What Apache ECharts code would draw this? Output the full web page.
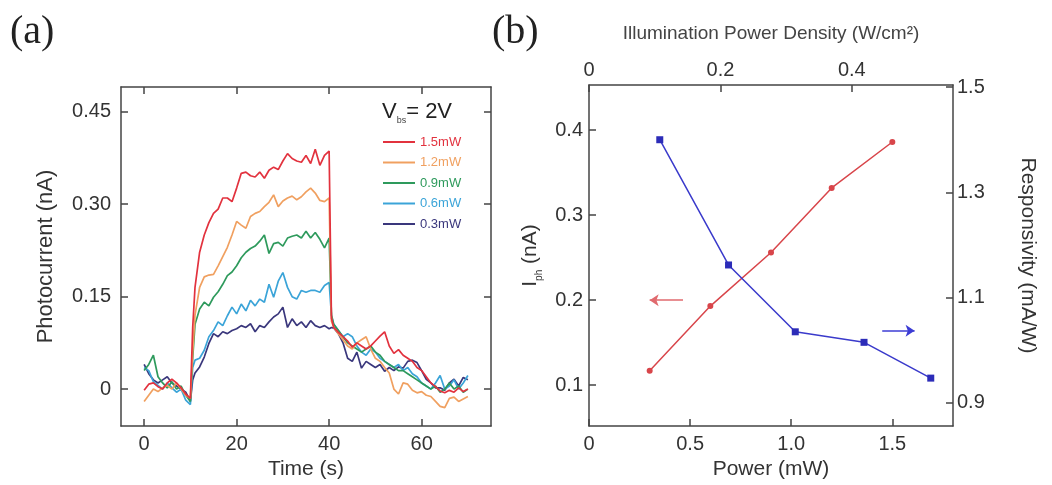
<!DOCTYPE html>
<html>
<head>
<meta charset="utf-8">
<script src="https://cdn.jsdelivr.net/npm/echarts@6/dist/echarts.min.js"></script>
<style>
  html,body{margin:0;padding:0;background:#fff;}
  #chart{width:1052px;height:485px;}
</style>
</head>
<body>
<div id="chart"></div>
<script>
// (a) time traces
let time = [0,1,2,3,4,5,6,7,8,9,10,10.5,11,12,13,14,15,16,17,18,19,20,21,22,23,24,25,26,27,28,29,30,
  31,32,33,34,35,36,37,38,39,40,40.5,41,42,43,44,45,46,47,48,49,50,51,52,53,54,55,56,57,58,59,60,
  61,62,63,64,65,66,67,68,69,70]
let p15 = [-0.002,0.008,0.01,0.004,0,0.01,0.016,0.01,0.002,-0.008,-0.015,0.1,0.165,0.222,0.25,0.27,0.285,0.292,0.31,0.31,0.304,0.326,
  0.35,0.352,0.346,0.344,0.352,0.342,0.355,0.36,0.356,0.37,0.382,0.374,0.37,0.368,0.379,0.366,0.389,0.363,0.379,0.386,
  0.115,0.1,0.092,0.085,0.078,0.068,0.075,0.07,0.065,0.07,0.078,0.086,0.093,0.07,0.058,0.064,0.055,0.05,0.045,0.035,0.03,
  0.02,0.01,0.004,-0.003,-0.006,-0.002,-0.005,0.002,-0.004,0]
let p12 = [-0.02,-0.01,0,-0.004,0.002,0.006,0,0.01,0,-0.01,-0.015,0.06,0.12,0.165,0.182,0.185,0.186,0.2,0.215,0.23,0.25,0.272,
  0.266,0.261,0.28,0.285,0.288,0.296,0.303,0.315,0.296,0.305,0.31,0.313,0.307,0.312,0.32,0.326,0.318,0.306,0.304,0.31,
  0.11,0.1,0.09,0.08,0.07,0.065,0.075,0.08,0.085,0.065,0.05,0.045,0.035,0.026,0,-0.008,0.01,0.008,-0.002,-0.006,-0.004,
  -0.01,-0.012,-0.02,-0.028,-0.03,-0.015,-0.013,-0.02,-0.016,-0.012]
let p09 = [0.03,0.04,0.055,0.02,0.01,0.002,0.012,0,0.005,-0.01,-0.02,0.05,0.105,0.13,0.141,0.135,0.149,0.158,0.17,0.184,0.19,0.2,
  0.213,0.222,0.228,0.232,0.24,0.25,0.22,0.236,0.238,0.232,0.245,0.248,0.25,0.245,0.256,0.245,0.254,0.243,0.229,0.245,
  0.12,0.105,0.095,0.085,0.075,0.07,0.065,0.06,0.065,0.07,0.06,0.055,0.045,0.04,0.035,0.03,0.03,0.025,0.02,0.015,0.01,
  0.005,0,0.005,-0.005,0,0.01,0,0.005,-0.005,0]
let p06 = [0.035,0.03,0.012,0.006,0,0.01,0.002,-0.005,0,-0.018,-0.025,0.035,0.047,0.05,0.063,0.085,0.095,0.109,0.103,0.119,0.133,0.122,
  0.138,0.127,0.144,0.135,0.146,0.141,0.17,0.149,0.175,0.189,0.165,0.15,0.146,0.16,0.157,0.16,0.16,0.157,0.168,0.173,
  0.12,0.105,0.095,0.085,0.09,0.085,0.07,0.06,0.055,0.065,0.06,0.05,0.045,0.04,0.035,0.04,0.03,0.035,0.025,0.02,0.01,
  0.005,0,0.01,0.022,0,0.005,0.015,0,0.01,0.022]
let p03 = [0.04,0.025,0.015,0.01,0.015,0.02,0.01,0.005,0,-0.005,-0.02,0.015,0.026,0.036,0.052,0.074,0.09,0.085,0.093,0.09,0.095,0.098,
  0.103,0.1,0.106,0.093,0.103,0.1,0.109,0.117,0.122,0.133,0.1,0.114,0.103,0.109,0.1,0.111,0.103,0.1,0.103,0.098,
  0.1,0.099,0.09,0.075,0.05,0.045,0.06,0.034,0.045,0.04,0.035,0.04,0.029,0.035,0.03,0.036,0.034,0.045,0.047,0.043,0.03,
  0.016,0.01,0.002,0.002,-0.002,0.01,0.016,0.005,0.019,0.015]
let traceNames = ['1.5mW','1.2mW','0.9mW','0.6mW','0.3mW']
let traceColors = ['#e2323e','#f0a060','#2e9a5c','#3ba4d8','#3a377c']

// (b) photocurrent and responsivity
let powerIph = [0.3,0.6,0.9,1.2,1.5]
let iph = [0.117,0.193,0.256,0.332,0.386]
let powerResp = [0.35,0.69,1.02,1.36,1.69]
let resp = [1.40,1.162,1.035,1.015,0.947]

function zip(xs, ys){
  let out = []
  for(var i=0;i<xs.length;i++){ out.push([xs[i], ys[i]]) }
  return out
}

let font = 'Liberation Sans'
let axisColor = '#444'
function frame(extra){
  let base = {
    type: 'value',
    axisLine: {show: true, onZero: false, lineStyle: {color: axisColor, width: 1.5}},
    axisTick: {show: true, inside: true, length: 7, lineStyle: {color: axisColor, width: 1.5}},
    axisLabel: {show: false},
    splitLine: {show: false},
    nameTextStyle: {fontFamily: font, fontSize: 21, color: '#333'}
  }
  return Object.assign(base, extra)
}
function labels(vals, digits, margin){
  return {
    show: true, customValues: vals, margin: margin,
    fontFamily: font, fontSize: 20, color: '#333',
    formatter: function(v){ return v === 0 ? '0' : v.toFixed(digits) }
  }
}
function ticks(vals){
  return {show: true, inside: true, length: 7, customValues: vals, lineStyle: {color: axisColor, width: 1.5}}
}

let chart = echarts.init(document.getElementById('chart'))
let series = []
let order = [4,3,2,1,0]
let traces = [p15,p12,p09,p06,p03]
order.forEach(function(k){
  series.push({
    name: traceNames[k], type: 'line', xAxisIndex: 0, yAxisIndex: 0,
    showSymbol: false, data: zip(time, traces[k]),
    lineStyle: {width: 1.7, color: traceColors[k]}, itemStyle: {color: traceColors[k]}
  })
})
series.push({
  name: 'Iph', type: 'line', xAxisIndex: 2, yAxisIndex: 2,
  data: zip(powerIph, iph), symbol: 'circle', symbolSize: 6,
  lineStyle: {width: 1.5, color: '#d8454a'}, itemStyle: {color: '#d8454a'},
  markLine: {
    silent: true, symbol: ['none','arrow'], symbolSize: 9, label: {show: false},
    lineStyle: {color: '#e06a6e', type: 'solid', width: 1.5},
    data: [[{coord: [0.465, 0.2]}, {coord: [0.3, 0.2]}]]
  }
})
series.push({
  name: 'Resp', type: 'line', xAxisIndex: 2, yAxisIndex: 3,
  data: zip(powerResp, resp), symbol: 'rect', symbolSize: 7,
  lineStyle: {width: 1.5, color: '#3a3acb'}, itemStyle: {color: '#2c2cb8'},
  markLine: {
    silent: true, symbol: ['none','arrow'], symbolSize: 9, label: {show: false},
    lineStyle: {color: '#3c3cd4', type: 'solid', width: 1.5},
    data: [[{coord: [1.45, 1.037]}, {coord: [1.61, 1.037]}]]
  }
})

let option = {
  animation: false,
  backgroundColor: '#fff',
  grid: [
    {left: 121, right: 561, top: 87, bottom: 56},
    {left: 589, right: 99, top: 85, bottom: 59}
  ],
  legend: {
    orient: 'vertical', left: 378, top: 129, itemWidth: 32, itemHeight: 2, itemGap: 4.5,
    icon: 'rect', selectedMode: false,
    textStyle: {fontFamily: font, fontSize: 13, lineHeight: 16},
    data: traceNames.map(function(n, i){ return {name: n, textStyle: {color: traceColors[i]}} })
  },
  xAxis: [
    frame({gridIndex: 0, position: 'bottom', min: -5, max: 75,
      axisLabel: labels([0,20,40,60], 0, 8), axisTick: ticks([0,20,40,60]),
      name: 'Time (s)', nameLocation: 'middle', nameGap: 28}),
    frame({gridIndex: 0, position: 'top', min: -5, max: 75, axisTick: ticks([0,20,40,60])}),
    frame({gridIndex: 1, position: 'bottom', min: 0, max: 1.8,
      axisLabel: labels([0,0.5,1,1.5], 1, 8), axisTick: ticks([0,0.5,1,1.5]),
      name: 'Power (mW)', nameLocation: 'middle', nameGap: 32}),
    frame({gridIndex: 1, position: 'top', min: 0, max: 0.554,
      axisLabel: labels([0,0.2,0.4], 1, 5), axisTick: ticks([0,0.2,0.4]),
      name: 'Illumination Power Density (W/cm²)', nameLocation: 'middle', nameGap: 42,
      nameTextStyle: {fontFamily: font, fontSize: 19, color: '#444'}})
  ],
  yAxis: [
    frame({gridIndex: 0, position: 'left', min: -0.06, max: 0.49,
      axisLabel: labels([0,0.15,0.3,0.45], 2, 10), axisTick: ticks([0,0.15,0.3,0.45]),
      name: 'Photocurrent (nA)', nameLocation: 'middle', nameGap: 64,
      nameTextStyle: {fontFamily: font, fontSize: 22, color: '#333'}}),
    frame({gridIndex: 0, position: 'right', min: -0.06, max: 0.49, axisTick: ticks([0,0.15,0.3,0.45])}),
    frame({gridIndex: 1, position: 'left', min: 0.052, max: 0.453,
      axisLabel: labels([0.1,0.2,0.3,0.4], 1, 6), axisTick: ticks([0.1,0.2,0.3,0.4]),
      name: '{a|I}{b|ph}{a| (nA)}', nameLocation: 'middle', nameGap: 48,
      nameTextStyle: {fontFamily: font, color: '#333', rich: {
        a: {fontFamily: font, fontSize: 21, color: '#333'},
        b: {fontFamily: font, fontSize: 10, color: '#333', verticalAlign: 'bottom', padding: [0,0,-3,0]}
      }}}),
    frame({gridIndex: 1, position: 'right', min: 0.856, max: 1.504,
      axisLabel: labels([0.9,1.1,1.3,1.5], 1, 4), axisTick: ticks([0.9,1.1,1.3,1.5]),
      name: 'Responsivity (mA/W)', nameLocation: 'middle', nameGap: 64, nameRotate: -90})
  ],
  graphic: [
    {type: 'text', left: 10, top: 12, style: {text: '(a)', font: '40px "Liberation Serif"', fill: '#222'}},
    {type: 'text', left: 492, top: 12, style: {text: '(b)', font: '40px "Liberation Serif"', fill: '#222'}},
    {type: 'text', left: 382, top: 101, style: {
      text: '{v|V}{s|bs}{v|= 2V}',
      rich: {
        v: {fontFamily: font, fontSize: 22, fill: '#222'},
        s: {fontFamily: font, fontSize: 9, fill: '#444', verticalAlign: 'bottom', padding: [0,0,-2,0]}
      }
    }}
  ],
  series: series
}
chart.setOption(option)
window.onresize = function(){ chart.resize() }
</script>
</body>
</html>
